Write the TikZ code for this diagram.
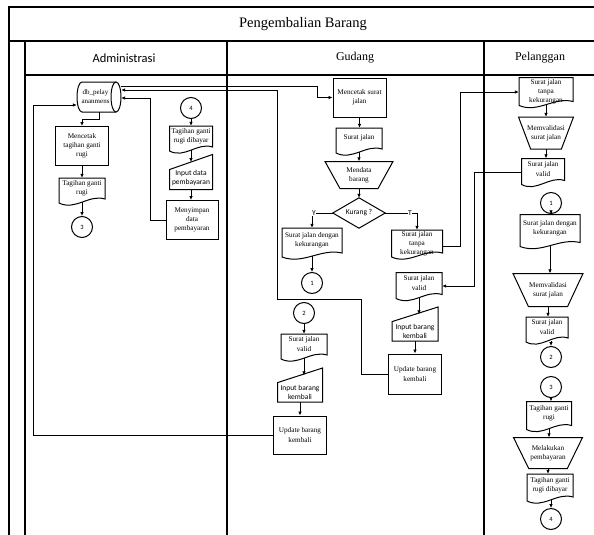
\documentclass[tikz,border=0pt]{standalone}
\usepackage{fontspec}
\setmainfont{Liberation Serif}
\newfontfamily\calib{Carlito}
\usetikzlibrary{calc,arrows.meta}
\tikzset{
  shp/.style={draw=black,line width=1pt},
  arr/.style={draw=black,line width=0.85pt,-{Latex[length=4pt,width=3.6pt]}},
  frm/.style={draw=black,line width=1.1pt},
  txt/.style={inner sep=0.5pt,align=center,font=\fontsize{7.2}{9.2}\selectfont},
  stxt/.style={inner sep=0.5pt,align=center,font=\calib\fontsize{7.5}{9}\selectfont},
  conn/.style={circle,shp,minimum size=21pt,inner sep=0pt,font=\calib\fontsize{6.5}{7}\selectfont},
  procbox/.style={rectangle,shp,txt},
  yt/.style={fill=white,inner sep=0.3pt,font=\calib\fontsize{7.5}{9}\selectfont},
}
\newcommand\procnode[6]{\node[procbox,minimum width=#4pt,minimum height=#5pt] (#1) at (#2,#3) {#6};}
\newcommand\docnode[7][-3]{%
  \node[inner sep=0pt,minimum width=#5pt,minimum height=#6pt] (#2) at (#3,#4) {};
  \draw[shp] (#3-#5/2,#4+#6/2-1) -- (#3-#5/2,#4-#6/2) -- (#3+#5/2,#4-#6/2) -- (#3+#5/2,#4+#6/2-5)
     .. controls (#3+0.15*#5,#4+#6/2-10) and (#3-0.15*#5,#4+#6/2+7) .. (#3-#5/2,#4+#6/2-1) -- cycle;
  \coordinate (#2b) at (#3,#4+#6/2-2);
  \node[txt] (#2t) at (#3,#4+#1) {#7};}
\newcommand\inpnode[7][6]{%
  \node[inner sep=0pt,minimum width=#5pt,minimum height=#6pt] (#2) at (#3,#4) {};
  \draw[shp] (#3-#5/2,#4+#6/2) -- (#3-#5/2,#4-#6/2+0.43*#6) -- (#3+#5/2,#4-#6/2) -- (#3+#5/2,#4+#6/2) -- cycle;
  \coordinate (#2s) at (#3,#4-#6/2+0.215*#6);
  \node[stxt] (#2t) at (#3,#4+#1) {#7};}
\newcommand\trapnode[6]{%
  \node[txt,minimum width=#4pt,minimum height=#5pt] (#1) at (#2,#3) {#6};
  \draw[shp] (#2-#4/2,#3-#5/2) -- (#2+#4/2,#3-#5/2) -- (#2+0.28*#4,#3+#5/2) -- (#2-0.28*#4,#3+#5/2) -- cycle;}
\begin{document}
\begin{tikzpicture}[x=1pt,y=-1pt]
\useasboundingbox (0,0) rectangle (594,535);
\fill[white] (0,0) rectangle (594,535);
% frame
\draw[frm] (9,540) -- (9,7) -- (600,7);
\draw[frm] (9,41) -- (600,41);
\draw[frm] (25,41) -- (25,540);
\draw[frm] (25,75) -- (600,75);
\draw[frm] (227,41) -- (227,540);
\draw[frm] (484,41) -- (484,540);
\node[font=\fontsize{14.5}{16}\selectfont] (title) at (303,24) {Pengembalian Barang};
\node[font=\calib\fontsize{12.5}{14}\selectfont] (hA) at (124,58) {Administrasi};
\node[font=\fontsize{12}{14}\selectfont] (hG) at (355,58) {Gudang};
\node[font=\fontsize{12}{14}\selectfont] (hP) at (540,58) {Pelanggan};
% ---------- Administrasi
\node[txt,inner sep=0pt,minimum width=44pt,minimum height=30pt] (db) at (99,97) {};
\draw[shp] (116,97) ellipse [x radius=5pt, y radius=15pt];
\draw[shp] (116,82) -- (82,82) arc[start angle=90, end angle=270, x radius=5pt, y radius=15pt] -- (116,112);
\node[txt,font=\fontsize{7}{9}\selectfont] (dbt) at (95.5,97) {db\_pelay\\ananmens};
\procnode{p1}{82}{146}{53}{39}{Mencetak\\tagihan ganti\\rugi}
\docnode{d1}{82}{191}{46}{26}{Tagihan ganti\\rugi}
\node[conn] (c3a) at (82,227) {3};
\node[conn] (c4a) at (191,108) {4};
\docnode{d2}{191}{139}{43}{26}{Tagihan ganti\\rugi dibayar}
\inpnode{m1}{191}{172}{43}{35}{Input data\\pembayaran}
\procnode{p2}{192}{220}{52}{39}{Menyimpan\\data\\pembayaran}
% ---------- Gudang
\procnode{g1}{359.5}{97.5}{53}{39}{Mencetak surat\\jalan}
\docnode{g2}{359}{141}{46}{26}{Surat jalan}
\trapnode{g3}{359}{175}{68}{27}{Mendata\\barang}
\node[stxt,minimum width=52pt,minimum height=30pt] (g4) at (359,213) {Kurang ?};
\draw[shp] (g4.north) -- (g4.east) -- (g4.south) -- (g4.west) -- cycle;
\docnode{g5}{312}{243}{60}{30}{Surat jalan dengan\\kekurangan}
\docnode[0]{g6}{417}{244}{51}{28}{Surat jalan\\tanpa\\kekurangan}
\node[conn] (g7) at (312,283) {1};
\docnode{g8}{419}{286}{46}{27}{Surat jalan\\valid}
\inpnode[7]{g10}{415}{324}{46}{34}{Input barang\\kembali}
\procnode{g9}{415}{374}{53}{40}{Update barang\\kembali}
\node[conn] (g11) at (304,313) {2};
\docnode{g13}{304}{347}{46}{26}{Surat jalan\\valid}
\inpnode[7]{g14}{300}{385}{45}{34}{Input barang\\kembali}
\procnode{g12}{300}{435}{53}{38}{Update barang\\kembali}
% ---------- Pelanggan
\docnode[0]{l1}{546}{92}{54}{29}{Surat jalan\\tanpa\\kekurangan}
\trapnode{l2}{546}{133}{55}{32}{Memvalidasi\\surat jalan}
\docnode{l3}{543}{172}{43}{27}{Surat jalan\\valid}
\node[conn] (l4) at (551,203) {1};
\docnode{l5}{550}{231}{60}{33}{Surat jalan dengan\\kekurangan}
\trapnode{l6}{548}{290}{70}{33}{Memvalidasi\\surat jalan}
\docnode{l7}{547}{330}{42}{26}{Surat jalan\\valid}
\node[conn] (l8) at (551,357) {2};
\node[conn] (l9) at (551,387) {3};
\docnode{l10}{549}{416}{45}{29}{Tagihan ganti\\rugi}
\trapnode{l11}{548}{453}{69}{31}{Melakukan\\pembayaran}
\docnode{l12}{550}{488}{46}{28}{Tagihan ganti\\rugi dibayar}
\node[conn] (l13) at (551,519) {4};
% ---------- connectors Administrasi
\draw[arr] (db.south) -- ++(0,7) -| (p1.north);
\draw[arr] (p1.south) -- (d1.north);
\draw[arr] (d1b) -- (c3a.north);
\draw[arr] (c4a.south) -- (d2.north);
\draw[arr] (d2b) -- (m1s);
\draw[arr] (m1.south) -- (m1.south |- p2.north);
\draw[arr] (p2.west) -| (150,98) -- ([yshift=-1pt]db.east);
% cross-lane
\draw[arr] ([yshift=11pt]db.east) -| ($(g1.west)+(-15pt,0)$) -- (g1.west);
\draw[arr] (g9.west) -- ++(-27,0) |- (277,299) |- ([yshift=7pt]db.east);
\draw[arr] (g12.west) -| (33,105) -- ([yshift=-8pt]db.west);
% ---------- Gudang
\draw[arr] (g1.south) -- (g1.south |- g2.north);
\draw[arr] (g2b) -- (g2b |- g3.north);
\draw[arr] (g3.south) -- (g4.north);
\draw[arr] (g4.west) -| (g5.north);
\draw[arr] (g4.east) -| (g6.north);
\node[yt] (ylab) at (314,213) {Y};
\node[yt] (tlab) at (410,213) {T};
\draw[arr] (g5b) -- (g5b |- g7.north);
\draw[arr] ([yshift=-2pt]g6.east) -| ($(l1.west)+(-58pt,0)$) -- (l1.west);
\draw[arr] (l3.west) -| ($(g8.east)+(32pt,0)$) -- (g8.east);
\draw[arr] (g8b) -- (g8b |- g10s);
\draw[arr] (g10.south) -- (g10.south |- g9.north);
\draw[arr] (g11.south) -- (g11.south |- g13.north);
\draw[arr] (g13b) -- (g13b |- g14s);
\draw[arr] (g14.south) -- (g14.south |- g12.north);
% ---------- Pelanggan
\draw[arr] (l1b) -- (l1b |- l2.north);
\draw[arr] (l2.south) -- (l2.south |- l3.north);
\draw[arr] (l4.south) -- (l4.south |- l5.north);
\draw[arr] (l5b) -- (l5b |- l6.north);
\draw[arr] (l6.south) -- (l6.south |- l7.north);
\draw[arr] (l8.north |- l7b) -- (l8.north);
\draw[arr] (l9.south) -- (l9.south |- l10.north);
\draw[arr] (l10b) -- (l10b |- l11.north);
\draw[arr] (l11.south) -- (l11.south |- l12.north);
\draw[arr] (l13.north |- l12b) -- (l13.north);
\end{tikzpicture}
\end{document}
